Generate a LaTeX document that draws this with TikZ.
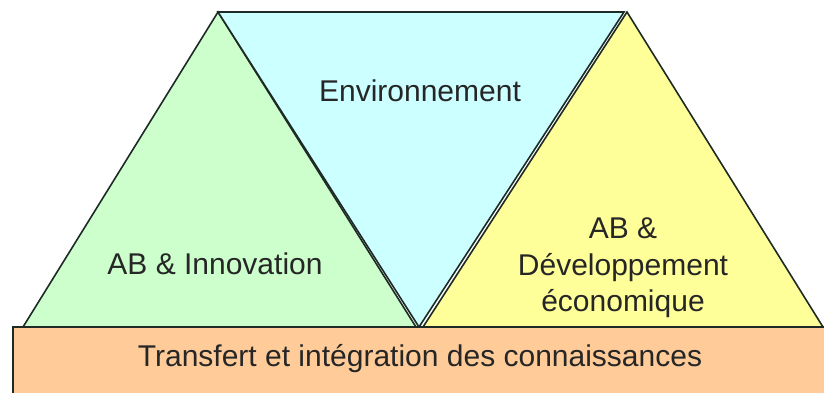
\documentclass[tikz,border=0pt]{standalone}
\usepackage{fontspec}
\setmainfont{Liberation Sans}
\definecolor{ggreen}{HTML}{CCFFCC}
\definecolor{gcyan}{HTML}{CCFFFF}
\definecolor{gyellow}{HTML}{FFFF99}
\definecolor{gorange}{HTML}{FFCC99}
\definecolor{gline}{HTML}{1E2A26}
\tikzset{
  tri/.style={draw=gline, line width=1.6pt, line join=miter},
  lbl/.style={font=\fontsize{30}{36.5}\selectfont, text=black!85, align=center, inner sep=0pt}
}
\begin{document}
\begin{tikzpicture}[x=1pt,y=-1pt]
\useasboundingbox (0,0) rectangle (824,392);
\clip (0,0) rectangle (824,392);
\fill[white] (0,0) rectangle (824,392);
% triangles
\filldraw[tri, fill=ggreen] (23,327) -- (218,12) -- (416,327) -- cycle;
\filldraw[tri, fill=gcyan] (218,12) -- (624,12) -- (419,327) -- cycle;
\filldraw[tri, fill=gyellow] (423,327) -- (627,12) -- (823,327) -- cycle;
% bottom band
\filldraw[draw=gline, line width=1.6pt, fill=gorange] (13,327) rectangle (840,400);
% labels
\node[lbl, anchor=base] (env) at (420,101) {Environnement};
\node[lbl, anchor=base] (inn) at (215,274) {AB \& Innovation};
\node[lbl, anchor=base] (dev1) at (623,238) {AB \&};
\node[lbl, anchor=base] (dev2) at (623,275) {Développement};
\node[lbl, anchor=base] (dev3) at (623,311) {économique};
\node[lbl, anchor=base] (trans) at (420,366) {Transfert et intégration des connaissances};
\end{tikzpicture}
\end{document}
